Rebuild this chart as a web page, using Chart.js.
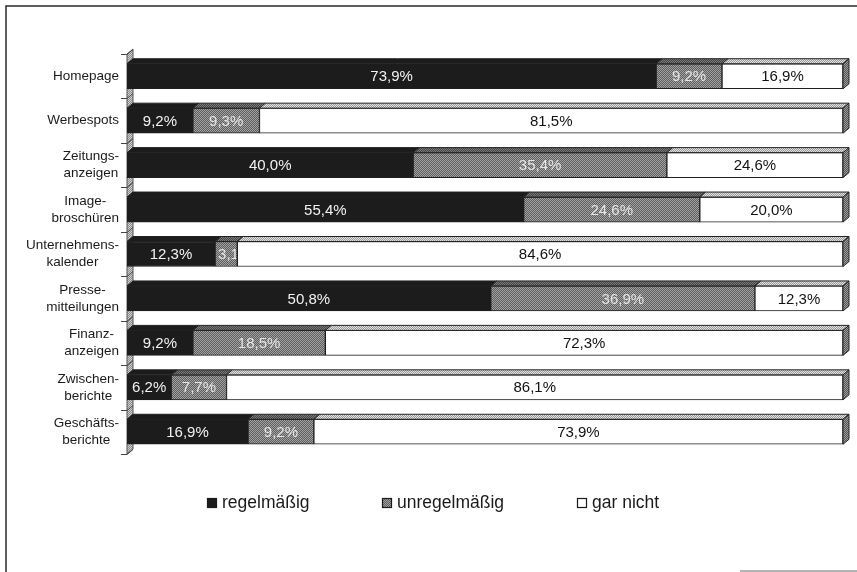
<!DOCTYPE html>
<html lang="de">
<head>
<meta charset="utf-8">
<title>Nutzung der Kommunikationsinstrumente</title>
<script src="https://cdn.jsdelivr.net/npm/chart.js@4.4.1/dist/chart.umd.min.js"></script>
<style>
    html, body { margin: 0; padding: 0; background: #ffffff; }
    #wrap { width: 857px; height: 572px; }
</style>
</head>
<body>
<div id="wrap"><canvas id="grafik" width="857" height="572"></canvas></div>
<script>
const kategorien = [
    ["Homepage"],
    ["Werbespots"],
    ["Zeitungs-", "anzeigen"],
    ["Image-", "broschüren"],
    ["Unternehmens-", "kalender"],
    ["Presse-", "mitteilungen"],
    ["Finanz-", "anzeigen"],
    ["Zwischen-", "berichte"],
    ["Geschäfts-", "berichte"],
];
const serienNamen = ["regelmäßig", "unregelmäßig", "gar nicht"];
const regelmaessig = [73.9, 9.2, 40.0, 55.4, 12.3, 50.8, 9.2, 6.2, 16.9];
const unregelmaessig = [9.2, 9.3, 35.4, 24.6, 3.1, 36.9, 18.5, 7.7, 9.2];
const garNicht = [16.9, 81.5, 24.6, 20.0, 84.6, 12.3, 72.3, 86.1, 73.9];

const SCHRIFT = "'Liberation Sans', Arial, sans-serif";
const TIEFE_X = 6;
const TIEFE_Y = 5;

function muster(a, b) {
    const c = document.createElement("canvas");
    c.width = 2;
    c.height = 2;
    const g = c.getContext("2d");
    g.fillStyle = a;
    g.fillRect(0, 0, 2, 2);
    g.fillStyle = b;
    g.fillRect(0, 0, 1, 1);
    g.fillRect(1, 1, 1, 1);
    return g.createPattern(c, "repeat");
}

const grauFront = muster("#5e5e5e", "#a2a2a2");
const grauOben = muster("#444444", "#7a7a7a");
const weissOben = muster("#9a9a9a", "#e2e2e2");
const seite = muster("#555555", "#9c9c9c");
const wand = muster("#8c8c8c", "#d0d0d0");

const fuellungFront = ["#1c1c1c", grauFront, "#ffffff"];
const fuellungOben = ["#1c1c1c", grauOben, weissOben];
const textFarben = ["#f2f2f2", "#e6e6e6", "#111111"];

function formatProzent(v) {
    return v.toFixed(1).replace(".", ",") + "%";
}

function viereck(ctx, p, fill, stroke) {
    ctx.beginPath();
    ctx.moveTo(p[0][0], p[0][1]);
    for (let i = 1; i < p.length; i++) ctx.lineTo(p[i][0], p[i][1]);
    ctx.closePath();
    ctx.fillStyle = fill;
    ctx.fill();
    ctx.strokeStyle = stroke;
    ctx.lineWidth = 1;
    ctx.stroke();
}

const balken3d = {
    id: "balken3d",
    beforeDraw(chart) {
        const ctx = chart.ctx;
        ctx.save();
        ctx.strokeStyle = "#2a2a2a";
        ctx.lineWidth = 1.5;
        ctx.beginPath();
        ctx.moveTo(6, 572);
        ctx.lineTo(6, 6);
        ctx.lineTo(857, 6);
        ctx.stroke();
        ctx.strokeStyle = "#9a9a9a";
        ctx.beginPath();
        ctx.moveTo(740, 571);
        ctx.lineTo(857, 571);
        ctx.stroke();
        ctx.restore();
    },
    beforeDatasetsDraw(chart) {
        const ctx = chart.ctx;
        const a = chart.chartArea;
        const y = chart.scales.y;
        ctx.save();
        // linke Seitenwand
        viereck(ctx, [
            [a.left, a.top],
            [a.left + TIEFE_X, a.top - TIEFE_Y],
            [a.left + TIEFE_X, a.bottom - TIEFE_Y],
            [a.left, a.bottom],
        ], wand, "#555555");
        // Teilstriche an den Kategoriegrenzen
        const schritt = (a.bottom - a.top) / kategorien.length;
        ctx.strokeStyle = "#444444";
        ctx.lineWidth = 1;
        for (let i = 0; i <= kategorien.length; i++) {
            const ty = Math.round(a.top + i * schritt) + 0.5;
            ctx.beginPath();
            ctx.moveTo(a.left - 6, ty);
            ctx.lineTo(a.left, ty);
            ctx.lineTo(a.left + TIEFE_X, ty - TIEFE_Y);
            ctx.stroke();
        }
        // Kategorienamen
        ctx.font = "13.5px " + SCHRIFT;
        ctx.fillStyle = "#1a1a1a";
        ctx.textAlign = "center";
        ctx.textBaseline = "middle";
        kategorien.forEach((zeilen, i) => {
            const yc = y.getPixelForValue(i);
            const breite = Math.max(...zeilen.map((z) => ctx.measureText(z).width));
            const xc = a.left - 8 - breite / 2;
            const start = yc - ((zeilen.length - 1) * 17) / 2;
            zeilen.forEach((z, k) => ctx.fillText(z, xc, start + k * 17));
        });
        ctx.restore();
    },
    afterDatasetsDraw(chart) {
        const ctx = chart.ctx;
        const anzahl = chart.data.datasets.length;
        ctx.save();
        for (let d = 0; d < anzahl; d++) {
            const meta = chart.getDatasetMeta(d);
            meta.data.forEach((el) => {
                const links = Math.min(el.base, el.x);
                const rechts = Math.max(el.base, el.x);
                const oben = el.y - el.height / 2;
                const unten = el.y + el.height / 2;
                viereck(ctx, [
                    [links, oben],
                    [rechts, oben],
                    [rechts + TIEFE_X, oben - TIEFE_Y],
                    [links + TIEFE_X, oben - TIEFE_Y],
                ], fuellungOben[d], "#222222");
                if (d === anzahl - 1) {
                    viereck(ctx, [
                        [rechts, oben],
                        [rechts + TIEFE_X, oben - TIEFE_Y],
                        [rechts + TIEFE_X, unten - TIEFE_Y],
                        [rechts, unten],
                    ], seite, "#222222");
                }
            });
        }
        // Werte in den Segmenten
        ctx.font = "15px " + SCHRIFT;
        ctx.textBaseline = "middle";
        for (let d = 0; d < anzahl; d++) {
            const meta = chart.getDatasetMeta(d);
            const werte = chart.data.datasets[d].data;
            meta.data.forEach((el, i) => {
                const links = Math.min(el.base, el.x);
                const rechts = Math.max(el.base, el.x);
                const text = formatProzent(werte[i]);
                const tb = ctx.measureText(text).width;
                ctx.save();
                ctx.beginPath();
                ctx.rect(links + 1, el.y - el.height / 2, rechts - links - 2, el.height);
                ctx.clip();
                ctx.fillStyle = textFarben[d];
                if (tb + 4 > rechts - links) {
                    ctx.textAlign = "left";
                    ctx.fillText(text, links + 3, el.y + 1);
                } else {
                    ctx.textAlign = "center";
                    ctx.fillText(text, (links + rechts) / 2, el.y + 1);
                }
                ctx.restore();
            });
        }
        ctx.restore();
    },
    afterDraw(chart) {
        const ctx = chart.ctx;
        const posX = [207, 382, 577];
        const posY = 503;
        ctx.save();
        ctx.font = "17.5px " + SCHRIFT;
        ctx.textAlign = "left";
        ctx.textBaseline = "middle";
        serienNamen.forEach((name, d) => {
            ctx.fillStyle = fuellungFront[d];
            ctx.fillRect(posX[d], posY - 5, 10, 10);
            ctx.strokeStyle = "#1a1a1a";
            ctx.lineWidth = 1.2;
            ctx.strokeRect(posX[d] + 0.5, posY - 4.5, 9, 9);
            ctx.fillStyle = "#1a1a1a";
            ctx.fillText(name, posX[d] + 15, posY);
        });
        ctx.restore();
    },
};

const datenreihen = [regelmaessig, unregelmaessig, garNicht];

new Chart(document.getElementById("grafik"), {
    type: "bar",
    data: {
        labels: kategorien,
        datasets: datenreihen.map((werte, d) => ({
            label: serienNamen[d],
            data: werte,
            backgroundColor: fuellungFront[d],
            borderColor: "#1e1e1e",
            borderWidth: 1,
            borderSkipped: false,
            barThickness: 25,
        })),
    },
    options: {
        indexAxis: "y",
        responsive: false,
        animation: false,
        layout: {
            padding: { left: 127, right: 14, top: 54, bottom: 118 },
        },
        plugins: {
            legend: { display: false },
            tooltip: { enabled: false },
        },
        scales: {
            x: { stacked: true, min: 0, max: 100, display: false },
            y: { stacked: true, display: false },
        },
    },
    plugins: [balken3d],
});
</script>
</body>
</html>
